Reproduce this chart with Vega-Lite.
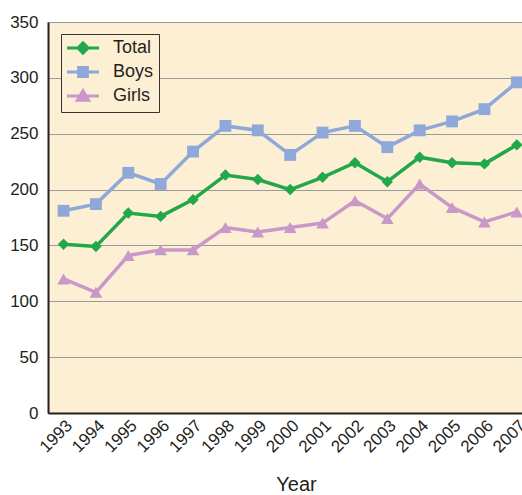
{
  "$schema": "https://vega.github.io/schema/vega-lite/v6.json",
  "autosize": {"type": "none"},
  "padding": {"left": 48, "top": 22, "right": 0, "bottom": 82},
  "width": 474,
  "height": 391,
  "background": "white",
  "config": {
    "font": "Liberation Sans",
    "view": {"fill": "#fdefd4", "stroke": null},
    "axis": {"labelFont": "Liberation Sans", "titleFont": "Liberation Sans", "labelColor": "#231f20", "titleColor": "#231f20"}
  },
  "data": {"values": [
    {"year": 1993, "series": "Total", "value": 151},
    {"year": 1994, "series": "Total", "value": 149},
    {"year": 1995, "series": "Total", "value": 179},
    {"year": 1996, "series": "Total", "value": 176},
    {"year": 1997, "series": "Total", "value": 191},
    {"year": 1998, "series": "Total", "value": 213},
    {"year": 1999, "series": "Total", "value": 209},
    {"year": 2000, "series": "Total", "value": 200},
    {"year": 2001, "series": "Total", "value": 211},
    {"year": 2002, "series": "Total", "value": 224},
    {"year": 2003, "series": "Total", "value": 207},
    {"year": 2004, "series": "Total", "value": 229},
    {"year": 2005, "series": "Total", "value": 224},
    {"year": 2006, "series": "Total", "value": 223},
    {"year": 2007, "series": "Total", "value": 240},
    {"year": 1993, "series": "Boys", "value": 181},
    {"year": 1994, "series": "Boys", "value": 187},
    {"year": 1995, "series": "Boys", "value": 215},
    {"year": 1996, "series": "Boys", "value": 205},
    {"year": 1997, "series": "Boys", "value": 234},
    {"year": 1998, "series": "Boys", "value": 257},
    {"year": 1999, "series": "Boys", "value": 253},
    {"year": 2000, "series": "Boys", "value": 231},
    {"year": 2001, "series": "Boys", "value": 251},
    {"year": 2002, "series": "Boys", "value": 257},
    {"year": 2003, "series": "Boys", "value": 238},
    {"year": 2004, "series": "Boys", "value": 253},
    {"year": 2005, "series": "Boys", "value": 261},
    {"year": 2006, "series": "Boys", "value": 272},
    {"year": 2007, "series": "Boys", "value": 296},
    {"year": 1993, "series": "Girls", "value": 120},
    {"year": 1994, "series": "Girls", "value": 108},
    {"year": 1995, "series": "Girls", "value": 141},
    {"year": 1996, "series": "Girls", "value": 146},
    {"year": 1997, "series": "Girls", "value": 146},
    {"year": 1998, "series": "Girls", "value": 166},
    {"year": 1999, "series": "Girls", "value": 162},
    {"year": 2000, "series": "Girls", "value": 166},
    {"year": 2001, "series": "Girls", "value": 170},
    {"year": 2002, "series": "Girls", "value": 190},
    {"year": 2003, "series": "Girls", "value": 174},
    {"year": 2004, "series": "Girls", "value": 205},
    {"year": 2005, "series": "Girls", "value": 184},
    {"year": 2006, "series": "Girls", "value": 171},
    {"year": 2007, "series": "Girls", "value": 180}
  ]},
  "encoding": {
    "x": {
      "field": "year", "type": "quantitative",
      "scale": {"domain": [1992.52, 2007.16], "nice": false, "zero": false},
      "axis": {
        "title": "Year", "titleFontSize": 20, "titleFontWeight": "normal",
        "titleX": 248, "titleY": 77, "titleBaseline": "alphabetic",
        "values": [1993,1994,1995,1996,1997,1998,1999,2000,2001,2002,2003,2004,2005,2006,2007],
        "format": "d", "labelAngle": -45, "labelFontSize": 17, "labelPadding": 4,
        "ticks": false, "grid": false, "domainColor": "#231f20", "domainWidth": 2,
        "labelOverlap": false, "labelBound": false, "labelFlush": false
      }
    },
    "y": {
      "field": "value", "type": "quantitative",
      "scale": {"domain": [0, 350], "nice": false},
      "axis": {
        "title": null, "values": [0,50,100,150,200,250,300,350],
        "labelFontSize": 17, "labelPadding": 10, "ticks": false,
        "grid": true, "gridColor": "#9a9a9a", "gridWidth": 1.2,
        "domainColor": "#231f20", "domainWidth": 2
      }
    },
    "color": {
      "field": "series", "type": "nominal",
      "scale": {"domain": ["Total", "Boys", "Girls"], "range": ["#20a84a", "#8fa8da", "#c898c8"]},
      "legend": {
        "title": null, "orient": "none", "legendX": 13, "legendY": 12,
        "strokeColor": "#333333", "fillColor": "#fdefd4", "padding": 5,
        "labelFontSize": 18, "labelFont": "Liberation Sans", "labelColor": "#231f20",
        "symbolSize": 200, "symbolStrokeWidth": 3, "labelOffset": 21, "rowPadding": 1, "symbolOffset": 8,
        "symbolType": {"expr": "datum.value === 'Total' ? 'M-2.26,0H2.26M0,-0.72L0.72,0L0,0.72L-0.72,0Z' : datum.value === 'Boys' ? 'M-2.26,0H2.26M-0.62,-0.62H0.62V0.62H-0.62Z' : 'M-2.26,0H2.26M0,-0.75L0.8,0.6H-0.8Z'"},
        "symbolFillColor": {"expr": "scale('color', datum.value)"},
        "symbolStrokeColor": {"expr": "scale('color', datum.value)"},
        "symbolOpacity": 1
      }
    }
  },
  "layer": [
    {
      "mark": {"type": "line", "strokeWidth": 3.5},
      "encoding": {"detail": {"field": "series"}}
    },
    {
      "transform": [{"filter": "datum.series === 'Total'"}],
      "mark": {"type": "point", "filled": true, "opacity": 1, "shape": "diamond", "size": 130}
    },
    {
      "transform": [{"filter": "datum.series === 'Boys'"}],
      "mark": {"type": "point", "filled": true, "opacity": 1, "shape": "square", "size": 140}
    },
    {
      "transform": [{"filter": "datum.series === 'Girls'"}],
      "mark": {"type": "point", "filled": true, "opacity": 1, "shape": "triangle-up", "size": 160}
    }
  ]
}
